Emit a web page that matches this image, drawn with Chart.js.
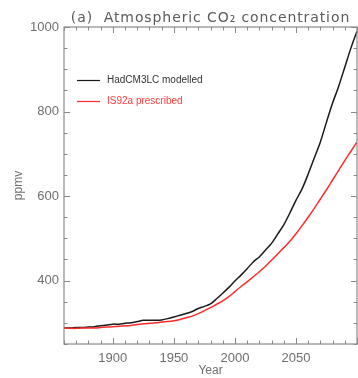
<!DOCTYPE html>
<html>
<head>
<meta charset="utf-8">
<script src="https://cdn.jsdelivr.net/npm/chart.js@4"></script>
<style>
  html, body { margin: 0; padding: 0; background: #fff; }
  #wrap { width: 358px; height: 378px; }
</style>
</head>
<body>
<div id="wrap"><canvas id="chart-canvas" width="358" height="378"></canvas></div>
<script>
// ----- data (ppmv, every 5 years) -----
var years = [1860, 1865, 1870, 1875, 1880, 1885, 1890, 1895, 1900, 1905,
  1910, 1915, 1920, 1925, 1930, 1935, 1940, 1945, 1950, 1955,
  1960, 1965, 1970, 1975, 1980, 1985, 1990, 1995, 2000, 2005,
  2010, 2015, 2020, 2025, 2030, 2035, 2040, 2045, 2050, 2055,
  2060, 2065, 2070, 2075, 2080, 2085, 2090, 2095, 2100];

var modelled = [288, 288, 289, 289, 290, 291, 293, 295, 297, 297,
  299, 300, 303, 306, 306, 306, 307, 310, 314, 318,
  322, 327, 334, 339, 345, 357, 370, 384, 399, 413,
  428, 444, 456, 472, 488, 510, 532, 560, 590, 617,
  652, 690, 728, 775, 820, 860, 905, 950, 990];

var prescribed = [287, 287, 287, 288, 288, 288, 289, 290, 291, 292,
  293, 294, 296, 298, 299, 300, 302, 303, 305, 308,
  312, 316, 322, 329, 336, 344, 352, 362, 374, 386,
  397, 409, 421, 434, 448, 463, 478, 493, 511, 530,
  550, 571, 593, 615, 638, 661, 684, 706, 728];

var seriesNames = ["HadCM3LC modelled", "IS92a prescribed"];
var seriesColors = ["#1a1a1a", "#ff2a2a"];
var xTicks = [1900, 1950, 2000, 2050];
var yTicks = [400, 600, 800, 1000];

var AXIS = "#8a8a8a";
var TEXT = "#6e6e6e";

function pts(ys) {
  return years.map(function(y, i) { return { x: y, y: ys[i] }; });
}

// Box round the plot, inward major/minor ticks on all four sides,
// title above and the legend inside the top-left corner
var decor = {
  id: "decor",
  afterDatasetsDraw: function(chart) {
    var ctx = chart.ctx;
    var a = chart.chartArea;
    var xs = chart.scales.x;
    var ys = chart.scales.y;
    ctx.save();
    ctx.strokeStyle = AXIS;
    ctx.lineWidth = 1.2;
    ctx.strokeRect(a.left, a.top, a.right - a.left, a.bottom - a.top);

    ctx.lineWidth = 1;
    ctx.beginPath();
    for (var yr = 1860; yr <= 2100; yr += 10) {
      var px = Math.round(xs.getPixelForValue(yr)) + 0.5;
      var len = (yr % 50 === 0) ? 6 : 3.5;
      ctx.moveTo(px, a.bottom); ctx.lineTo(px, a.bottom - len);
      ctx.moveTo(px, a.top); ctx.lineTo(px, a.top + len);
    }
    for (var v = 250; v <= 1000; v += 50) {
      var py = Math.round(ys.getPixelForValue(v)) + 0.5;
      var l2 = (v % 200 === 0) ? 6 : 3.5;
      ctx.moveTo(a.left, py); ctx.lineTo(a.left + l2, py);
      ctx.moveTo(a.right, py); ctx.lineTo(a.right - l2, py);
    }
    ctx.stroke();

    // title, centred over the plot area
    ctx.fillStyle = "#5a5a5a";
    ctx.font = "14px 'DejaVu Sans'";
    ctx.letterSpacing = "0.9px";
    ctx.textAlign = "center";
    ctx.textBaseline = "alphabetic";
    ctx.fillText("(a)  Atmospheric CO\u2082 concentration", (a.left + a.right) / 2, 22);
    ctx.letterSpacing = "0px";

    // legend
    ctx.font = "10px 'Liberation Sans'";
    ctx.textAlign = "left";
    ctx.textBaseline = "middle";
    for (var i = 0; i < seriesNames.length; i++) {
      var ly = 80.5 + i * 21;
      ctx.strokeStyle = seriesColors[i];
      ctx.lineWidth = 1.2;
      ctx.beginPath();
      ctx.moveTo(77, ly); ctx.lineTo(100, ly);
      ctx.stroke();
      ctx.fillStyle = i === 0 ? "#333" : "#ff3b3b";
      ctx.fillText(seriesNames[i], 107, ly);
    }
    ctx.restore();
  }
};

function plain(v) { return String(v); }

var canvas = document.getElementById("chart-canvas");
var chartInstance = new Chart(canvas.getContext("2d"), {
  type: "line",
  data: {
    datasets: [
      { label: seriesNames[1], data: pts(prescribed), borderColor: seriesColors[1], borderWidth: 1.5, pointRadius: 0, tension: 0.3 },
      { label: seriesNames[0], data: pts(modelled), borderColor: seriesColors[0], borderWidth: 1.5, pointRadius: 0, tension: 0.3 }
    ]
  },
  options: {
    responsive: false,
    animation: false,
    layout: { padding: { top: 27, right: 1, bottom: 0, left: 0 } },
    plugins: { legend: { display: false }, tooltip: { enabled: false } },
    scales: {
      x: {
        type: "linear",
        min: 1860,
        max: 2100,
        afterBuildTicks: function(s) { s.ticks = xTicks.map(function(v) { return { value: v }; }); },
        afterFit: function(s) { s.height = 34; },
        grid: { display: false, drawTicks: false },
        border: { display: false },
        ticks: { color: TEXT, font: { family: "Liberation Sans", size: 13 }, padding: 7, maxRotation: 0, callback: plain },
        title: { display: true, text: "Year", color: TEXT, font: { family: "Liberation Sans", size: 12 }, padding: { top: 0, bottom: 0 } }
      },
      y: {
        min: 250,
        max: 1000,
        afterBuildTicks: function(s) { s.ticks = yTicks.map(function(v) { return { value: v }; }); },
        afterFit: function(s) { s.width = 64; },
        grid: { display: false, drawTicks: false },
        border: { display: false },
        ticks: { color: TEXT, font: { family: "Liberation Sans", size: 13 }, padding: 5, callback: plain },
        title: { display: true, text: "ppmv", color: TEXT, font: { family: "Liberation Sans", size: 12 }, padding: { top: 11, bottom: 0 } }
      }
    }
  },
  plugins: [decor]
});
</script>
</body>
</html>
